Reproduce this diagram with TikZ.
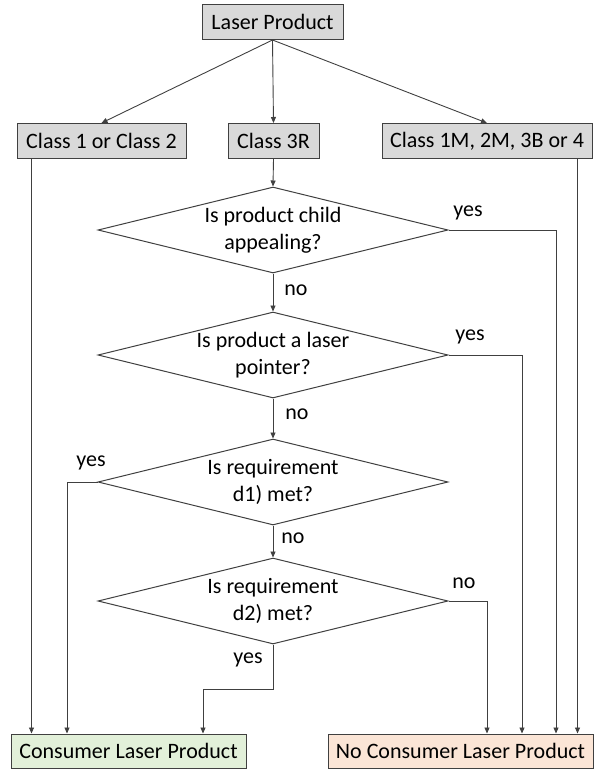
\documentclass[tikz,border=0pt]{standalone}
\usepackage{fontspec}
\setmainfont{Carlito}
\usetikzlibrary{shapes.geometric,arrows.meta}
\definecolor{boxgray}{HTML}{D9D9D9}
\definecolor{consgreen}{HTML}{E2F0D9}
\definecolor{noconsorange}{HTML}{FBE5D6}
\definecolor{linegray}{HTML}{404040}
\newcommand{\chartfont}{\fontsize{22}{26.5}\selectfont}
\tikzset{
    box/.style={draw=linegray, line width=1pt, minimum height=35pt, inner sep=0pt, font=\chartfont},
    question/.style={diamond, aspect=4.07, draw=linegray, line width=1pt, minimum width=350pt, minimum height=86pt,
        inner sep=0pt, align=center, font=\chartfont},
    lbl/.style={inner sep=0pt, font=\chartfont},
    arr/.style={draw=linegray, line width=0.9pt, -{Triangle[length=6pt,width=5pt]}}
}

\begin{document}
\begin{tikzpicture}[x=1pt,y=1pt]
\useasboundingbox (0,0) rectangle (595,-769);

\node[box, fill=boxgray, minimum width=141pt] (laser) at (272.5,-22) {Laser Product};
\node[box, fill=boxgray, minimum width=169pt] (class12) at (101.5,-141) {Class 1 or Class 2};
\node[box, fill=boxgray, minimum width=91pt] (class3r) at (273.5,-141) {Class 3R};
\node[box, fill=boxgray, minimum width=210pt] (class1m) at (487,-141) {Class 1M, 2M, 3B or 4};

\node[question] (child) at (273,-230) {Is product child\\appealing?};
\node[question] (pointer) at (273,-355) {Is product a laser\\pointer?};
\node[question] (reqd1) at (273,-482) {Is requirement\\d1) met?};
\node[question] (reqd2) at (273,-601) {Is requirement\\d2) met?};

\node[box, fill=consgreen, minimum width=235pt, minimum height=34pt] (consumer) at (128.5,-751) {Consumer Laser Product};
\node[box, fill=noconsorange, minimum width=265pt, minimum height=34pt] (noconsumer) at (460.5,-751) {No Consumer Laser Product};

\node[lbl] (yeschild) at (468,-213) {yes};
\node[lbl] (nochild) at (296,-290) {no};
\node[lbl] (yespointer) at (470,-337) {yes};
\node[lbl] (nopointer) at (297,-414) {no};
\node[lbl] (yesreqd1) at (91,-463) {yes};
\node[lbl] (noreqd1) at (293,-538) {no};
\node[lbl] (noreqd2) at (464,-583) {no};
\node[lbl] (yesreqd2) at (248,-660) {yes};

\draw[arr] (laser.south) -- (class12.north);
\draw[arr] (laser.south) -- (class3r.north);
\draw[arr] (laser.south) -- (class1m.north);
\draw[arr] (class3r.south) -- (child.north);

\draw[arr] (child.south) -- (pointer.north);
\draw[arr] (pointer.south) -- (reqd1.north);
\draw[arr] (reqd1.south) -- (reqd2.north);

\draw[arr] (child.east) -| ([xshift=95.5pt]noconsumer.north);
\draw[arr] (pointer.east) -| ([xshift=61.5pt]noconsumer.north);
\draw[arr] (reqd2.east) -| ([xshift=26.5pt]noconsumer.north);
\draw[arr] (reqd1.west) -| ([xshift=-61.5pt]consumer.north);
\draw[arr] (reqd2.south) -- ++(0,-45) -| ([xshift=74.5pt]consumer.north);

\draw[arr] ([xshift=15pt]class12.south west) -- ([xshift=15pt]class12.south west |- consumer.north);
\draw[arr] ([xshift=-15pt]class1m.south east) -- ([xshift=-15pt]class1m.south east |- noconsumer.north);
\end{tikzpicture}
\end{document}
